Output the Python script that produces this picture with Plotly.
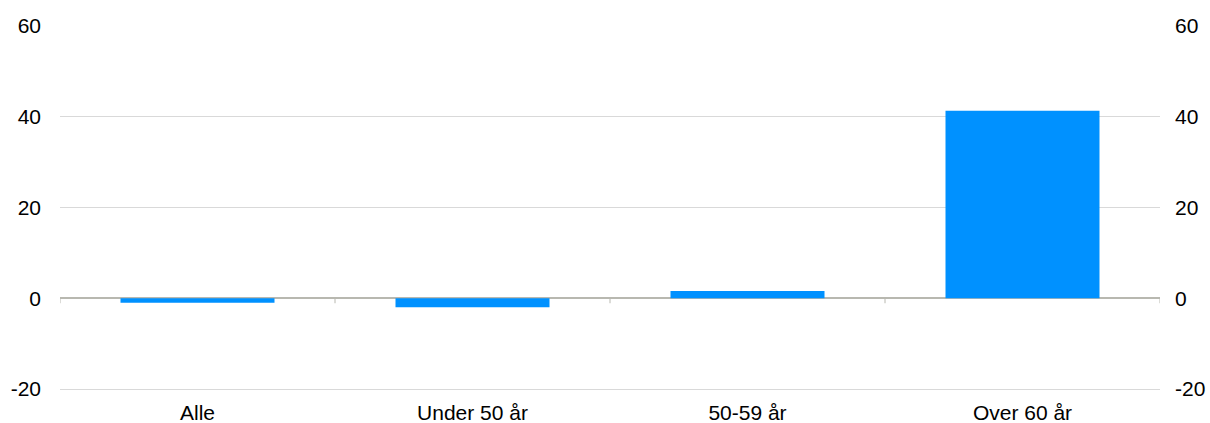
import plotly.graph_objects as go

categories = ["Alle", "Under 50 år", "50-59 år", "Over 60 år"]
values = [-1.0, -2.0, 1.6, 41.3]
y_ticks = [-20, 0, 20, 40, 60]
y_tick_text = ["-20", "0", "20", "40", "60"]

font = dict(family="Liberation Sans, Arial, sans-serif", size=21, color="#000000")

fig = go.Figure()
fig.add_trace(go.Bar(x=categories, y=values, marker=dict(color="#0091FF", line=dict(width=0)),
                     showlegend=False, hoverinfo="x+y"))
fig.add_trace(go.Scatter(x=categories, y=values, yaxis="y2", mode="markers",
                         marker=dict(opacity=0), showlegend=False, hoverinfo="skip"))

# small tick marks along the zero line at category boundaries
for i in range(len(categories) + 1):
    fig.add_shape(type="line", xref="x", yref="y", x0=i - 0.5, x1=i - 0.5, y0=0, y1=-1.1,
                  line=dict(color="#b8b8b0", width=1))

fig.update_layout(
    width=1210, height=423,
    margin=dict(l=60, r=50, t=26, b=34, autoexpand=False),
    paper_bgcolor="white", plot_bgcolor="white",
    bargap=0.44,
    font=font,
    xaxis=dict(showgrid=False, showline=True, linecolor="#d9d9d9", linewidth=1,
               ticks="", tickfont=font, automargin=False,
               range=[-0.5, 3.5], ticklabelstandoff=5),
    yaxis=dict(range=[-20, 60], tickvals=y_ticks, ticktext=y_tick_text, showgrid=True,
               gridcolor="#d9d9d9", gridwidth=1, zeroline=True, zerolinecolor="#b8b8b0",
               zerolinewidth=1.5, automargin=False,
               ticks="", tickfont=font, ticklabelstandoff=18, showline=False),
    yaxis2=dict(range=[-20, 60], tickvals=y_ticks, ticktext=y_tick_text, overlaying="y",
                side="right", automargin=False,
                showgrid=False, zeroline=False, ticks="", tickfont=font,
                ticklabelstandoff=14, showline=False),
)

fig.write_html("out.html")
